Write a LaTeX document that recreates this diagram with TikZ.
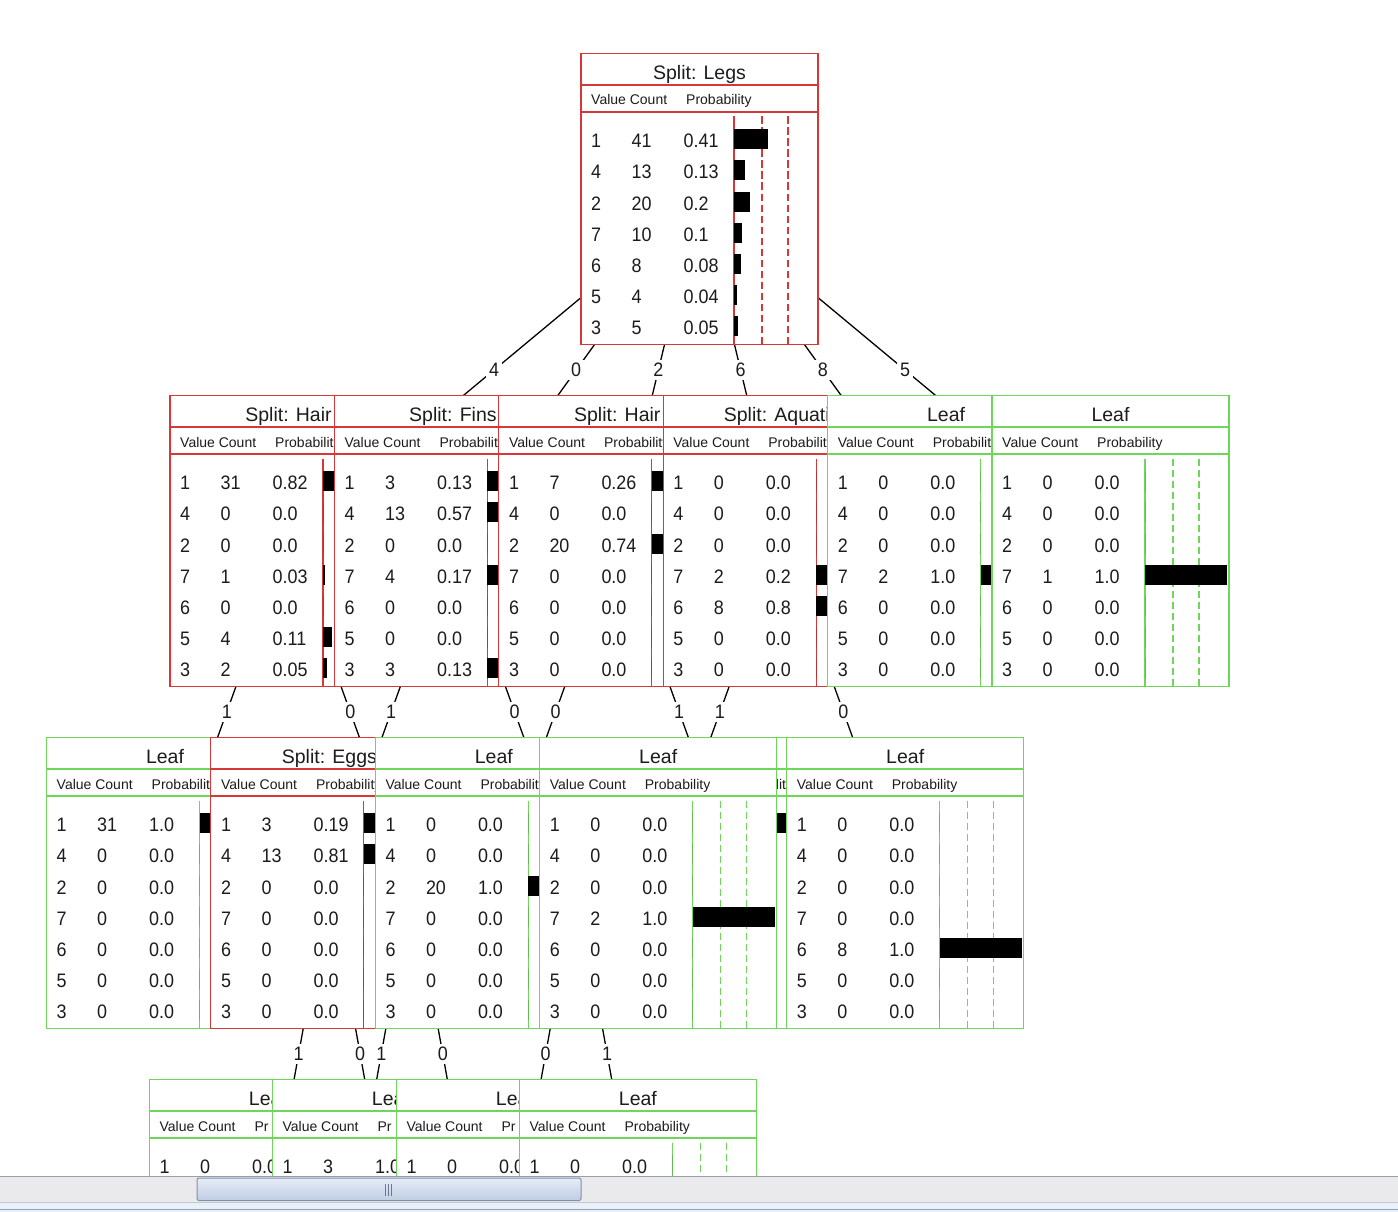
\documentclass[tikz,border=0pt]{standalone}
\usepackage{fontspec}
\setmainfont{Liberation Sans}
\newfontfamily\cellfont[FakeStretch=0.92]{Liberation Sans}
\pgfdeclarelayer{back}
\pgfdeclarelayer{bg}
\pgfsetlayers{back,bg,main}
\definecolor{rd}{RGB}{215,55,55}
\definecolor{gn}{RGB}{110,215,90}
\definecolor{txt}{RGB}{28,28,28}
\definecolor{sbbg}{RGB}{234,234,236}
\definecolor{sbline}{RGB}{150,160,172}
\definecolor{sbline2}{RGB}{195,200,205}
\definecolor{sbbot}{RGB}{232,240,250}
\definecolor{thumbT}{RGB}{230,236,247}
\definecolor{thumbB}{RGB}{192,205,226}
\definecolor{thumbE}{RGB}{128,144,170}
\definecolor{gripc}{RGB}{105,120,150}
\tikzset{
  tbox/.style={rectangle, fill=white, line width=1.1pt, minimum width=237pt, minimum height=291pt, inner sep=0pt, outer sep=0pt},
  ttl/.style={anchor=base, inner sep=0pt, text=txt, font=\fontsize{19.5}{22}\selectfont},
  hdr/.style={anchor=base west, inner sep=0pt, text=txt, font=\fontsize{14}{16}\selectfont},
  cell/.style={anchor=base west, inner sep=0pt, text=txt, font=\cellfont\fontsize{19.5}{22}\selectfont},
  dashv/.style={dash pattern=on 7.5pt off 3.5pt, line width=1.1pt},
  conn/.style={line width=1.3pt, black},
  elab/.style={fill=white, inner sep=3pt, text=txt, font=\cellfont\fontsize{19.5}{22}\selectfont},
}
% #1 name, #2 cx, #3 cy, #4 colour, #5 title, #6 clip left, #7 clip right, #8 rows, #9 probability header
\newcommand{\dtbox}[9]{%
  \pgfmathsetmacro\bxL{#2-118.5}%
  \pgfmathsetmacro\bxT{#3-145.5}%
  \begin{scope}
    \clip (#6,\bxT-2) rectangle (#7,\bxT+293);
    \node[tbox,draw=#4] (#1) at (#2,#3) {};
    \draw[#4,line width=1.1pt] (\bxL,\bxT+31.5) -- ++(237,0) (\bxL,\bxT+58.5) -- ++(237,0);
    \node[ttl] at (#2,\bxT+26) {#5};
    \node[hdr] at (\bxL+10,\bxT+51.5) {Value Count};
    \node[hdr] at (\bxL+105,\bxT+51.5) {#9};
    \draw[#4,line width=1.1pt] (\bxL+153,\bxT+63) -- (\bxL+153,\bxT+291);
    \draw[#4,dashv] (\bxL+181,\bxT+63) -- (\bxL+181,\bxT+291) (\bxL+207,\bxT+63) -- (\bxL+207,\bxT+291);
    \foreach \rv/\rc/\rp [count=\ri from 0] in {#8}{%
      \pgfmathsetmacro\ry{\bxT+94.2+31.2*\ri}%
      \node[cell] at (\bxL+10,\ry) {\rv};
      \node[cell] at (\bxL+50.5,\ry) {\rc};
      \node[cell] at (\bxL+102.5,\ry) {\rp};
      \pgfmathsetmacro\bw{\rp*82}%
      \fill[black] (\bxL+153,\ry-18.5) rectangle ++(\bw,20);
    }
  \end{scope}}

\begin{document}
\begin{tikzpicture}[x=1pt,y=-1pt]
\useasboundingbox (0,0) rectangle (1398,1212);
\begin{pgfonlayer}{back}
  \fill[white] (0,0) rectangle (1398,1212);
\end{pgfonlayer}

% ---- level 1
\dtbox{root}{699.5}{199}{rd}{Split: Legs}{580}{819.5}{1/41/0.41,4/13/0.13,2/20/0.2,7/10/0.1,6/8/0.08,5/4/0.04,3/5/0.05}{Probability}

% ---- level 2
\dtbox{hairA}{288.5}{541}{rd}{Split: Hair}{169}{334.4}{1/31/0.82,4/0/0.0,2/0/0.0,7/1/0.03,6/0/0.0,5/4/0.11,3/2/0.05}{Probability}
\coordinate (hidA) at (412,883);
\coordinate (hidC) at (350.5,1225);
\coordinate (hidD) at (473.5,1225);
\dtbox{fins}{452.9}{541}{rd}{Split: Fins}{333.4}{498.8}{1/3/0.13,4/13/0.57,2/0/0.0,7/4/0.17,6/0/0.0,5/0/0.0,3/3/0.13}{Probability}
\dtbox{hairB}{617.3}{541}{rd}{Split: Hair}{497.8}{663.2}{1/7/0.26,4/0/0.0,2/20/0.74,7/0/0.0,6/0/0.0,5/0/0.0,3/0/0.0}{Probability}
\dtbox{aqua}{781.7}{541}{rd}{Split: Aquatic}{662.2}{827.6}{1/0/0.0,4/0/0.0,2/0/0.0,7/2/0.2,6/8/0.8,5/0/0.0,3/0/0.0}{Probability}
\dtbox{leafA}{946.1}{541}{gn}{Leaf}{826.6}{992}{1/0/0.0,4/0/0.0,2/0/0.0,7/2/1.0,6/0/0.0,5/0/0.0,3/0/0.0}{Probability}
\dtbox{leafB}{1110.5}{541}{gn}{Leaf}{991}{1230.5}{1/0/0.0,4/0/0.0,2/0/0.0,7/1/1.0,6/0/0.0,5/0/0.0,3/0/0.0}{Probability}

% ---- level 3
\dtbox{leafC}{165}{883}{gn}{Leaf}{45.5}{210.9}{1/31/1.0,4/0/0.0,2/0/0.0,7/0/0.0,6/0/0.0,5/0/0.0,3/0/0.0}{Probability}
\dtbox{eggs}{329.4}{883}{rd}{Split: Eggs}{209.9}{375.3}{1/3/0.19,4/13/0.81,2/0/0.0,7/0/0.0,6/0/0.0,5/0/0.0,3/0/0.0}{Probability}
\coordinate (hidB) at (576.4,883);
\dtbox{leafD}{493.8}{883}{gn}{Leaf}{374.3}{539.7}{1/0/0.0,4/0/0.0,2/20/1.0,7/0/0.0,6/0/0.0,5/0/0.0,3/0/0.0}{Probability}
% strip of a leaf that is mostly covered
\begin{scope}
  \clip (776.7,735) rectangle (786.7,1031);
  \node[tbox,draw=gn] (leafS) at (741,883) {};
  \draw[gn,line width=1.1pt] (622.5,769) -- ++(237,0) (622.5,796) -- ++(237,0);
  \node[hdr] at (727.5,789) {Probability};
  \fill[black] (775.5,813.2) rectangle ++(82,20);
\end{scope}
\dtbox{leafE}{658.2}{883}{gn}{Leaf}{538.7}{777.7}{1/0/0.0,4/0/0.0,2/0/0.0,7/2/1.0,6/0/0.0,5/0/0.0,3/0/0.0}{Probability}
\dtbox{leafF}{905.2}{883}{gn}{Leaf}{785.7}{1024.7}{1/0/0.0,4/0/0.0,2/0/0.0,7/0/0.0,6/8/1.0,5/0/0.0,3/0/0.0}{Probability}

% ---- level 4
\dtbox{leafG}{267.9}{1225}{gn}{Leaf}{148.4}{272.4}{1/0/0.0}{Pr}
\dtbox{leafH}{390.9}{1225}{gn}{Leaf}{271.4}{396.4}{1/3/1.0}{Pr}
\dtbox{leafI}{514.9}{1225}{gn}{Leaf}{395.4}{519.4}{1/0/0.0}{Pr}
\dtbox{leafJ}{637.9}{1225}{gn}{Leaf}{518.4}{757.4}{1/0/0.0}{Probability}

% ---- connectors
\begin{pgfonlayer}{bg}
  \draw[conn] (root.center) -- node[elab,midway]{4} (hairA.center);
  \draw[conn] (root.center) -- node[elab,midway]{0} (fins.center);
  \draw[conn] (root.center) -- node[elab,midway]{2} (hairB.center);
  \draw[conn] (root.center) -- node[elab,midway]{6} (aqua.center);
  \draw[conn] (root.center) -- node[elab,midway]{8} (leafA.center);
  \draw[conn] (root.center) -- node[elab,midway]{5} (leafB.center);
  \draw[conn] (hairA.center) -- node[elab,midway]{1} (leafC.center);
  \draw[conn] (hairA.center) -- node[elab,midway]{0} (hidA);
  \draw[conn] (fins.center) -- node[elab,midway]{1} (eggs.center);
  \draw[conn] (fins.center) -- node[elab,midway]{0} (hidB);
  \draw[conn] (hairB.center) -- node[elab,midway]{0} (leafD.center);
  \draw[conn] (hairB.center) -- node[elab,midway]{1} (leafS.center);
  \draw[conn] (aqua.center) -- node[elab,midway]{1} (leafE.center);
  \draw[conn] (aqua.center) -- node[elab,midway]{0} (leafF.center);
  \draw[conn] (eggs.center) -- node[elab,midway]{1} (leafG.center);
  \draw[conn] (eggs.center) -- node[elab,midway]{0} (leafH.center);
  \draw[conn] (hidA) -- node[elab,midway]{1} (hidC);
  \draw[conn] (hidA) -- node[elab,midway]{0} (hidD);
  \draw[conn] (hidB) -- node[elab,midway]{0} (leafI.center);
  \draw[conn] (hidB) -- node[elab,midway]{1} (leafJ.center);
\end{pgfonlayer}

% ---- scroll bar
\fill[sbbg] (0,1176) rectangle (1398,1202);
\draw[sbline,line width=1.5pt] (0,1176.5) -- (1398,1176.5);
\fill[sbbot] (0,1202) rectangle (1398,1212);
\draw[sbline2,line width=1pt] (0,1202.5) -- (1398,1202.5);
\draw[sbline,line width=1.2pt] (0,1209.5) -- (1398,1209.5);
\shadedraw[top color=thumbT,bottom color=thumbB,draw=thumbE,line width=1pt,rounded corners=2pt] (197,1178) rectangle (581,1200.5);
\draw[gripc,line width=0.9pt] (385.5,1184) -- (385.5,1196) (388.5,1184) -- (388.5,1196) (391.5,1184) -- (391.5,1196);
\end{tikzpicture}
\end{document}
